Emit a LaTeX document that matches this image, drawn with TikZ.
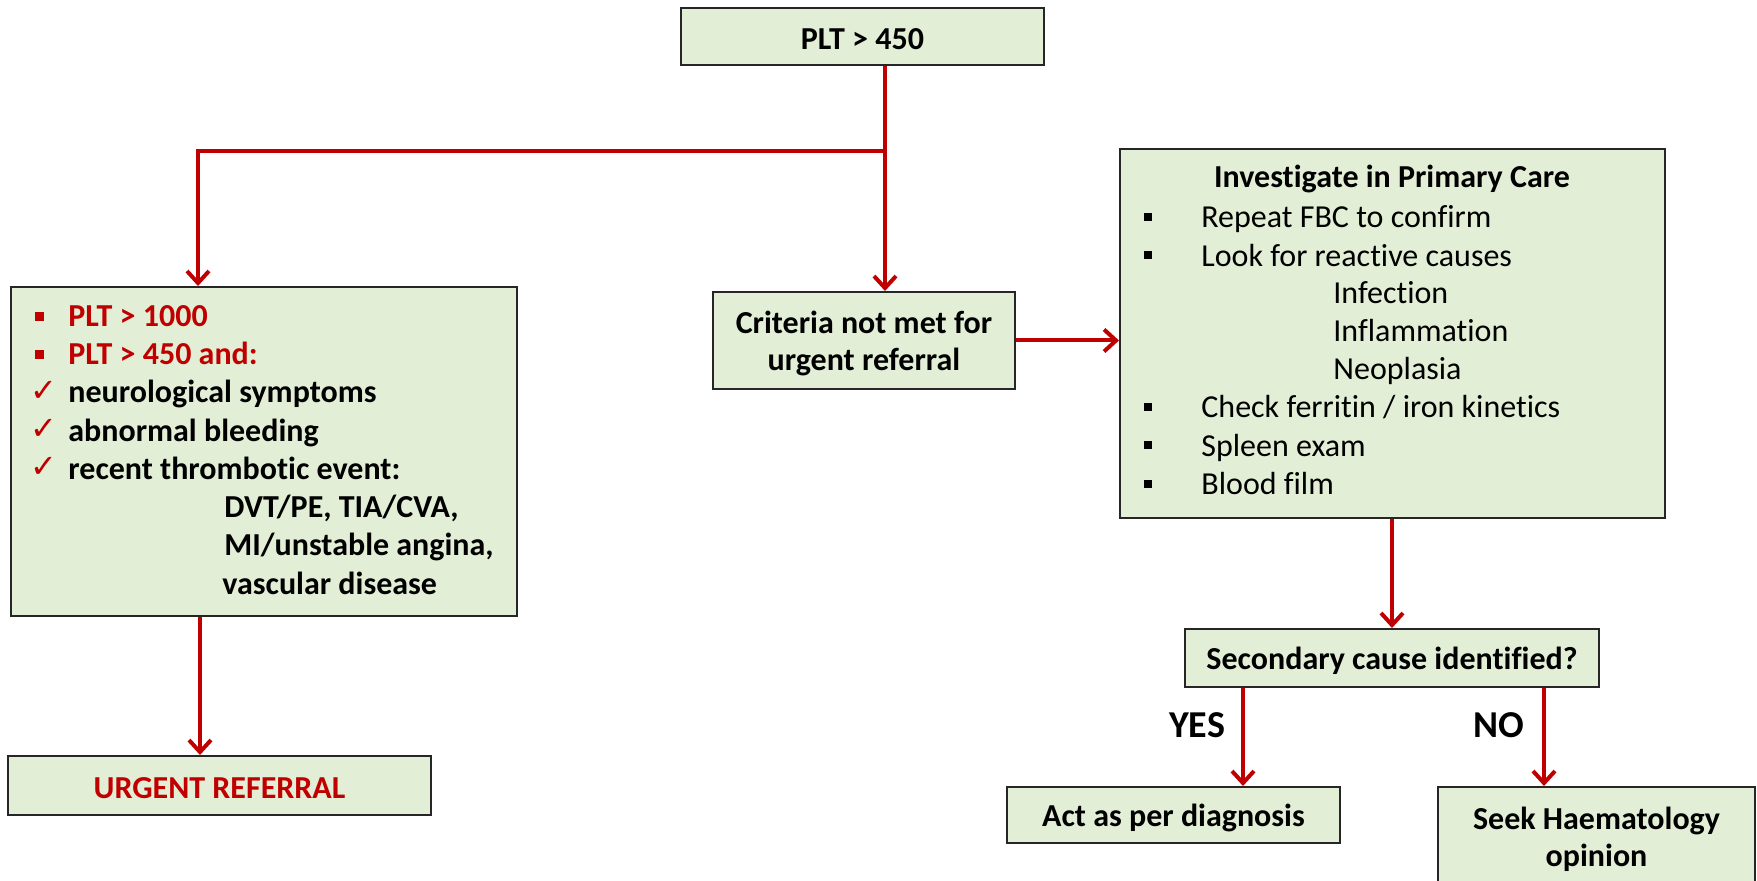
\documentclass[tikz,border=0pt]{standalone}
\usepackage{fontspec}
\setmainfont{Carlito}[Ligatures=NoCommon]
\newfontfamily\symfont{DejaVu Sans}
\usetikzlibrary{arrows.meta}
\definecolor{boxfill}{HTML}{E2EFD6}
\definecolor{arrred}{HTML}{C00000}
\begin{document}
\begin{tikzpicture}[x=0.5pt,y=-0.5pt,
  box/.style={draw=black!85, line width=1pt, fill=boxfill, inner sep=0pt},
  btxt/.style={inner sep=0pt, align=center, yshift=-1.5pt,
              font=\fontsize{16}{18.5}\selectfont\bfseries},
  ln/.style={draw=arrred, line width=2pt},
  arr/.style={ln, -{Straight Barb[length=6pt,width=11pt]}},
  lt/.style={anchor=base west, inner sep=0pt, font=\fontsize{16}{19}\selectfont\bfseries},
  rt/.style={anchor=base west, inner sep=0pt, font=\fontsize{16}{19}\selectfont},
  lsq/.style={fill=arrred, minimum size=4.5pt, inner sep=0pt},
  rsq/.style={fill=black, minimum size=4pt, inner sep=0pt},
  chk/.style={text=arrred, inner sep=0pt, font=\symfont\fontsize{16}{16}\selectfont},
  lbl/.style={inner sep=0pt, font=\fontsize{19}{19}\selectfont\bfseries}
]
\useasboundingbox (0,0) rectangle (1757,881);
% boxes
\node[box, minimum width=181.5pt, minimum height=28.5pt] (plt) at (862.5,36.5) {};
\node[box, minimum width=253pt, minimum height=164.5pt] (left) at (264,451.5) {};
\node[box, minimum width=211.5pt, minimum height=29.5pt] (urgent) at (219.5,785.5) {};
\node[box, minimum width=151pt, minimum height=48.5pt] (crit) at (864,340.5) {};
\node[box, minimum width=272.5pt, minimum height=184.5pt] (inv) at (1392.5,333.5) {};
\node[box, minimum width=207pt, minimum height=29pt] (sec) at (1392,658) {};
\node[box, minimum width=166.5pt, minimum height=28pt] (act) at (1173.5,815) {};
\node[box, minimum width=158.5pt, minimum height=51.5pt] (seek) at (1596.5,838.5) {};
% box texts
\node[btxt] (pltt) at (plt.center) {PLT > 450};
\node[btxt, text=arrred] (urgentt) at (urgent.center) {URGENT REFERRAL};
\node[btxt] (critt) at (crit.center) {Criteria not met for\\urgent referral};
\node[btxt] (sect) at (sec.center) {Secondary cause identified?};
\node[btxt] (actt) at (act.center) {Act as per diagnosis};
\node[btxt, yshift=1pt] (seekt) at (seek.center) {Seek Haematology\\opinion};
% left box content
\node[lsq] (lb1) at (39,316.5) {};
\node[lsq] (lb2) at (39,354.5) {};
\node[chk] (lc1) at (44,391) {✓};
\node[chk] (lc2) at (44,429) {✓};
\node[chk] (lc3) at (44,467) {✓};
\node[lt, text=arrred] (l1) at (68,327) {PLT > 1000};
\node[lt, text=arrred] (l2) at (68,365) {PLT > 450 and:};
\node[lt] (l3) at (68,403) {neurological symptoms};
\node[lt] (l4) at (68,442) {abnormal bleeding};
\node[lt] (l5) at (68,480) {recent thrombotic event:};
\node[lt] (l6) at (224,518) {DVT/PE, TIA/CVA,};
\node[lt] (l7) at (224,556) {MI/unstable angina,};
\node[lt] (l8) at (222,595) {vascular disease};
% right box content
\node[lt, anchor=base] (rtitle) at (1392,188) {Investigate in Primary Care};
\node[rsq] (rb1) at (1147.5,217) {};
\node[rsq] (rb2) at (1147.5,255) {};
\node[rsq] (rb3) at (1147.5,407) {};
\node[rsq] (rb4) at (1147.5,445) {};
\node[rsq] (rb5) at (1147.5,484) {};
\node[rt] (r1) at (1201,228) {Repeat FBC to confirm};
\node[rt] (r2) at (1201,266.5) {Look for reactive causes};
\node[rt] (r3) at (1333,304) {Infection};
\node[rt] (r4) at (1333,342) {Inflammation};
\node[rt] (r5) at (1333,380) {Neoplasia};
\node[rt] (r6) at (1201,418) {Check ferritin / iron kinetics};
\node[rt] (r7) at (1201,456.5) {Spleen exam};
\node[rt] (r8) at (1201,495) {Blood film};
% labels
\node[lbl] (yes) at (1197,725) {YES};
\node[lbl] (no) at (1499,725) {NO};
% connectors
\coordinate (j) at (885,151);
\coordinate (jl) at (198,151);
\coordinate (ux) at (200,700);
\coordinate (yx) at (1243,700);
\coordinate (nx) at (1544,700);
\draw[ln] (plt.south -| j) -- (j);
\draw[arr] (j) -- (crit.north -| j);
\draw[arr] (j) -- (jl) -- (jl |- left.north);
\draw[arr] (left.south -| ux) -- (urgent.north -| ux);
\draw[arr] (crit.east) -- (inv.west |- crit.east);
\draw[arr] (inv.south -| sec.north) -- (sec.north);
\draw[arr] (sec.south -| yx) -- (act.north -| yx);
\draw[arr] (sec.south -| nx) -- (seek.north -| nx);
\end{tikzpicture}
\end{document}
